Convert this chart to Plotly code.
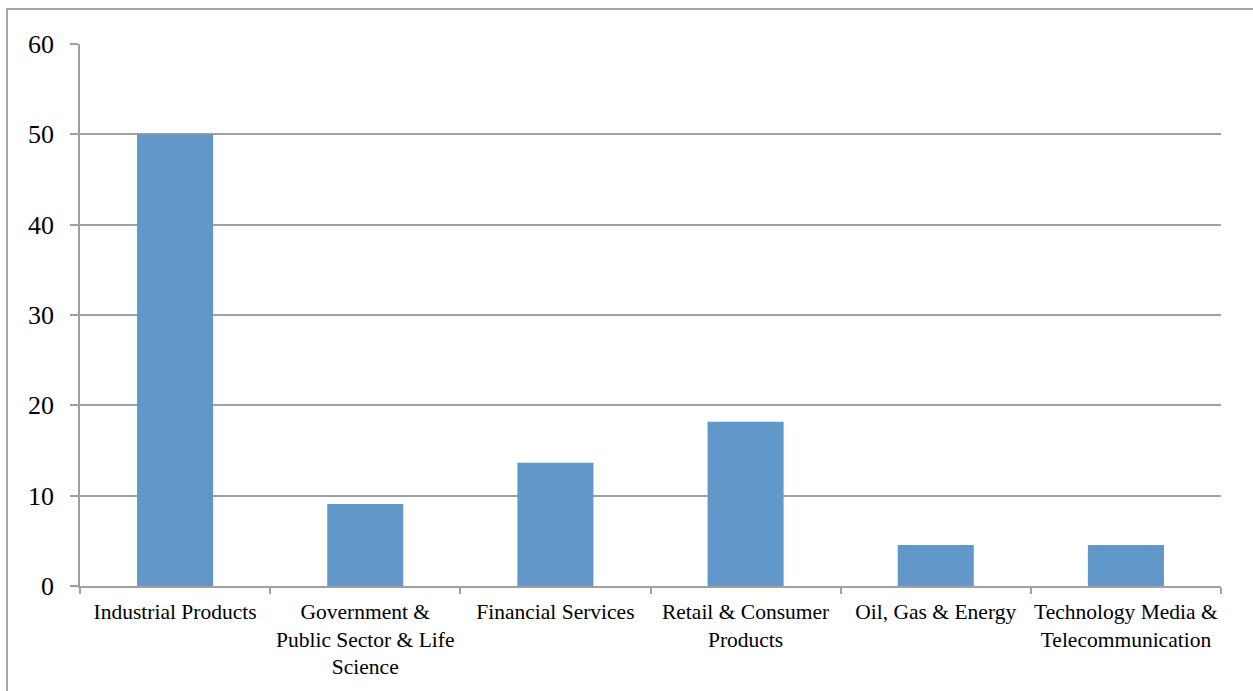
import plotly.graph_objects as go

categories = [
    "Industrial Products",
    "Government &<br>Public Sector & Life<br>Science",
    "Financial Services",
    "Retail & Consumer<br>Products",
    "Oil, Gas & Energy",
    "Technology Media &<br>Telecommunication",
]
values = [50.0, 9.09, 13.64, 18.18, 4.55, 4.55]
y_ticks = [0, 10, 20, 30, 40, 50, 60]

W, H = 1253, 691
L, R, T, B = 80, 32, 44, 105
pw, ph = W - L - R, H - T - B

grey = "#a0a0a0"
font_family = "Liberation Serif"

fig = go.Figure(
    go.Bar(
        x=categories,
        y=values,
        marker=dict(color="#6297c9", line=dict(width=0)),
    )
)

fig.update_layout(
    width=W,
    height=H,
    margin=dict(l=L, r=R, t=T, b=B, autoexpand=False),
    paper_bgcolor="white",
    plot_bgcolor="white",
    bargap=0.6,
    showlegend=False,
    font=dict(family=font_family, color="#000000"),
    shapes=[
        dict(
            type="rect",
            xref="paper",
            yref="paper",
            x0=(7 - L) / pw,
            x1=(W + 20 - L) / pw,
            y0=-(H + 20 - (T + ph)) / ph,
            y1=(T + ph - 9) / ph,
            line=dict(color="#a6a6a6", width=2),
            fillcolor="rgba(0,0,0,0)",
            layer="below",
        )
    ],
)

fig.update_xaxes(
    type="category",
    automargin=False,
    tickangle=0,
    showgrid=False,
    showline=True,
    linecolor=grey,
    linewidth=1.5,
    ticks="outside",
    tickson="boundaries",
    ticklen=6,
    tickcolor=grey,
    tickwidth=1.5,
    tickfont=dict(size=21.5, family=font_family),
    ticklabelstandoff=5,
)

fig.update_yaxes(
    range=[0, 60],
    tickvals=y_ticks,
    automargin=False,
    showgrid=True,
    gridcolor=grey,
    gridwidth=1.5,
    showline=True,
    linecolor=grey,
    linewidth=1.5,
    ticks="outside",
    ticklen=8,
    tickcolor=grey,
    tickwidth=1.5,
    tickfont=dict(size=26, family=font_family),
    ticklabelstandoff=11,
    zeroline=False,
)

fig.write_html("out.html")
